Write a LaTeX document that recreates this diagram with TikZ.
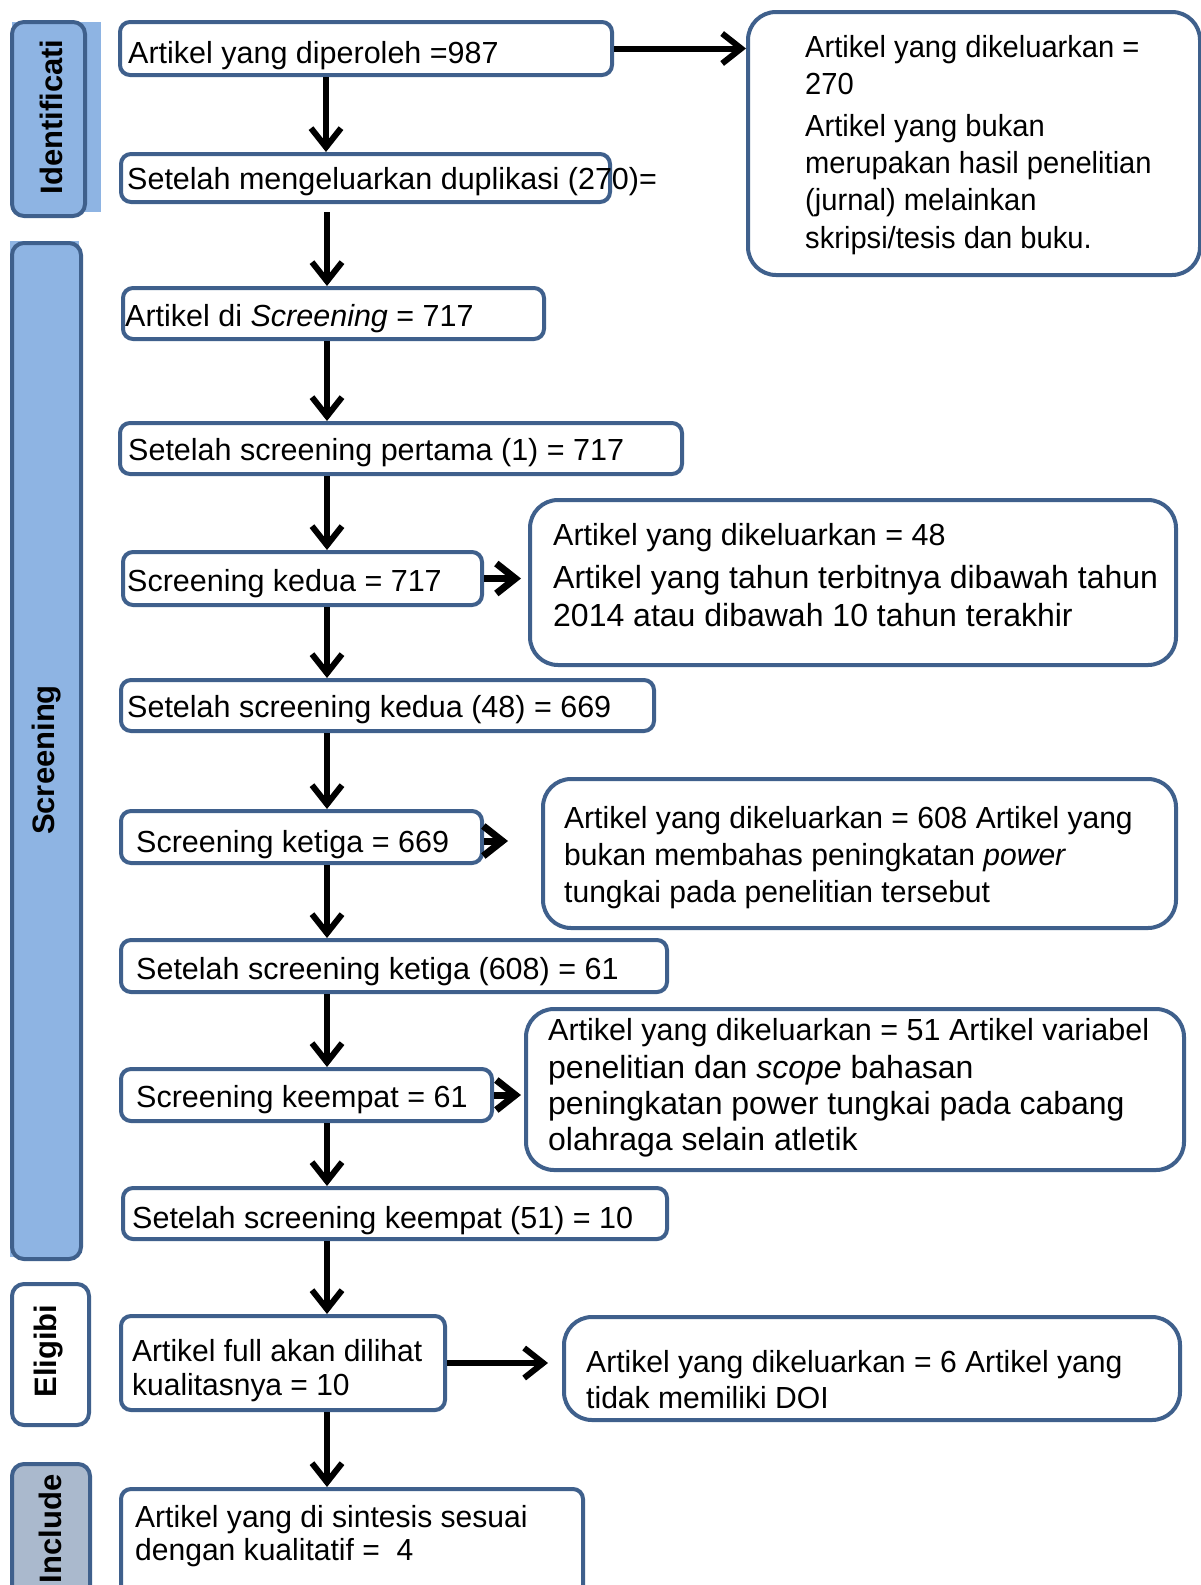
\documentclass[tikz,border=0pt]{standalone}
\usepackage{fontspec}
\setmainfont{Liberation Sans}
\usepackage{graphicx}
\usetikzlibrary{arrows.meta}
\definecolor{bordercol}{RGB}{63,96,140}
\definecolor{panelcol}{RGB}{142,180,227}
\definecolor{inclcol}{RGB}{170,185,205}
\newcommand\hsq[2]{\scalebox{#1}[1]{#2}}
\begin{document}
\begin{tikzpicture}[x=1pt,y=-1pt,
 box/.style={draw=bordercol, line width=4pt, fill=white, rounded corners=10pt, inner sep=0pt, anchor=north west},
 bigbox/.style={box, rounded corners=28pt},
 panel/.style={box, rounded corners=12pt},
 txt/.style={inner sep=0pt, anchor=base west, font=\fontsize{30.5}{36}\selectfont},
 txtw/.style={txt, font=\fontsize{32}{38}\selectfont},
 lab/.style={inner sep=0pt, rotate=90, font=\fontsize{31}{36}\selectfont\bfseries},
 arr/.style={line width=6pt, -{Straight Barb[length=19pt,width=30pt]}},
 sarr/.style={arr, line width=7pt}]
\useasboundingbox (0,0) rectangle (1200,1585);
\fill[white] (0,0) rectangle (1200,1585);

% ---- side panels
\fill[panelcol] (12,22) rectangle (101,212);
\node[panel, fill=panelcol, minimum width=73pt, minimum height=194pt] (pI) at (10,20) {};
\node[lab] (lI) at (51,117) {Identificati};
\fill[panelcol] (10,241) rectangle (79,1257);
\node[panel, fill=panelcol, minimum width=69pt, minimum height=1016pt] (pS) at (10,241) {};
\node[lab] (lS) at (47,760) {Screening};
\node[panel, fill=white, minimum width=77pt, minimum height=141pt] (pE) at (10,1282) {};
\node[lab] (lE) at (49,1351) {Eligibi};
\node[panel, fill=inclcol, minimum width=78pt, minimum height=140pt] (pC) at (10,1462) {};
\node[lab] (lC) at (50,1529) {Include};

% ---- main column boxes
\node[box, minimum width=492pt, minimum height=53pt] (b1) at (118,20) {};
\node[box, minimum width=489pt, minimum height=48pt] (b2) at (119,152) {};
\node[box, minimum width=421pt, minimum height=51pt] (b3) at (121,286) {};
\node[box, minimum width=562pt, minimum height=51pt] (b4) at (118,421) {};
\node[box, minimum width=359pt, minimum height=53pt] (b5) at (121,550) {};
\node[box, minimum width=533pt, minimum height=51pt] (b6) at (119,678) {};
\node[box, minimum width=361pt, minimum height=52pt] (b7) at (119,809) {};
\node[box, minimum width=546pt, minimum height=52pt] (b8) at (119,938) {};
\node[box, minimum width=371pt, minimum height=52pt] (b9) at (119,1067) {};
\node[box, minimum width=544pt, minimum height=51pt] (b10) at (121,1186) {};
\node[box, minimum width=324pt, minimum height=94pt] (b11) at (119,1314) {};
\node[box, minimum width=462pt, minimum height=110pt] (b12) at (119,1487) {};

% ---- right boxes
\node[bigbox, minimum width=452pt, minimum height=263pt] (r1) at (746,10) {};
\node[bigbox, minimum width=646pt, minimum height=165pt] (r2) at (528,498) {};
\node[bigbox, minimum width=633pt, minimum height=149pt] (r3) at (541,777) {};
\node[bigbox, minimum width=658pt, minimum height=161pt] (r4) at (524,1007) {};
\node[bigbox, minimum width=616pt, minimum height=103pt] (r5) at (562,1315) {};

% ---- texts main column
\node[txt] (t1) at (128,63) {Artikel yang diperoleh =987};
\node[txt] (t2) at (127,189) {Setelah mengeluarkan duplikasi (270)=};
\node[txt] (t3) at (125,326) {Artikel di \textit{Screening} = 717};
\node[txt] (t4) at (128,460) {Setelah screening pertama (1) = 717};
\node[txt] (t5) at (127,591) {Screening kedua = 717};
\node[txt] (t6) at (127,717) {Setelah screening kedua (48) = 669};
\node[txt] (t7) at (136,852) {Screening ketiga = 669};
\node[txt] (t8) at (136,979) {Setelah screening ketiga (608) = 61};
\node[txt] (t9) at (136,1107) {Screening keempat = 61};
\node[txt] (t10) at (132,1228) {Setelah screening keempat (51) = 10};
\node[txt] (t11a) at (132,1361) {\hsq{0.983}{Artikel full akan dilihat}};
\node[txt] (t11b) at (132,1395) {\hsq{0.983}{kualitasnya = 10}};
\node[txt] (t12a) at (135,1527) {\hsq{0.985}{Artikel yang di sintesis sesuai}};
\node[txt] (t12b) at (135,1560) {\hsq{0.985}{dengan kualitatif =\ \ 4}};

% ---- texts right boxes
\node[txt] (s1a) at (805,57) {\hsq{0.955}{Artikel yang dikeluarkan =}};
\node[txt] (s1b) at (805,94) {\hsq{0.955}{270}};
\node[txt] (s1c) at (805,136) {\hsq{0.955}{Artikel yang bukan}};
\node[txt] (s1d) at (805,173) {\hsq{0.955}{merupakan hasil penelitian}};
\node[txt] (s1e) at (805,210) {\hsq{0.955}{(jurnal) melainkan}};
\node[txt] (s1f) at (805,248) {\hsq{0.955}{skripsi/tesis dan buku.}};

\node[txt] (s2a) at (553,545) {Artikel yang dikeluarkan = 48};
\node[txtw] (s2b) at (553,588) {Artikel yang tahun terbitnya dibawah tahun};
\node[txtw] (s2c) at (553,626) {2014 atau dibawah 10 tahun terakhir};

\node[txt] (s3a) at (564,828) {\hsq{0.985}{Artikel yang dikeluarkan = 608 Artikel yang}};
\node[txt] (s3b) at (564,865) {\hsq{0.985}{bukan membahas peningkatan \textit{power}}};
\node[txt] (s3c) at (564,902) {\hsq{0.985}{tungkai pada penelitian tersebut}};

\node[txt] (s4a) at (548,1040) {Artikel yang dikeluarkan = 51 Artikel variabel};
\node[txtw] (s4b) at (548,1078) {penelitian dan \textit{scope} bahasan};
\node[txtw] (s4c) at (548,1114) {peningkatan power tungkai pada cabang};
\node[txtw] (s4d) at (548,1150) {olahraga selain atletik};

\node[txt] (s5a) at (586,1372) {\hsq{0.987}{Artikel yang dikeluarkan = 6 Artikel yang}};
\node[txt] (s5b) at (586,1408) {\hsq{0.987}{tidak memiliki DOI}};

% ---- connectors
\coordinate (ax) at (327,0);
\coordinate (ax1) at (326,0);
\coordinate (b7e) at ([yshift=-4pt]b7.east);
\draw[arr] (b1.south -| ax1) -- (b2.north -| ax1);
\draw[arr, shorten <=8pt] (b2.south -| ax) -- (b3.north -| ax);
\draw[arr] (b3.south -| ax) -- (b4.north -| ax);
\draw[arr] (b4.south -| ax) -- (b5.north -| ax);
\draw[arr] (b5.south -| ax) -- (b6.north -| ax);
\draw[arr] (b6.south -| ax) -- (b7.north -| ax);
\draw[arr] (b7.south -| ax) -- (b8.north -| ax);
\draw[arr] (b8.south -| ax) -- (b9.north -| ax);
\draw[arr] (b9.south -| ax) -- (b10.north -| ax);
\draw[arr] (b10.south -| ax) -- (b11.north -| ax);
\draw[arr] (b11.south -| ax) -- (b12.north -| ax);

\draw[arr] (b1.east) -- (r1.west |- b1.east);
\draw[sarr, shorten >=7pt] (b5.east) -- (r2.west |- b5.east);
\draw[sarr, shorten >=33pt] (b7e) -- (r3.west |- b7e);
\draw[sarr, shorten >=3pt] (b9.east) -- (r4.west |- b9.east);
\draw[arr, shorten >=14pt] (b11.east) -- (r5.west |- b11.east);
\end{tikzpicture}
\end{document}
